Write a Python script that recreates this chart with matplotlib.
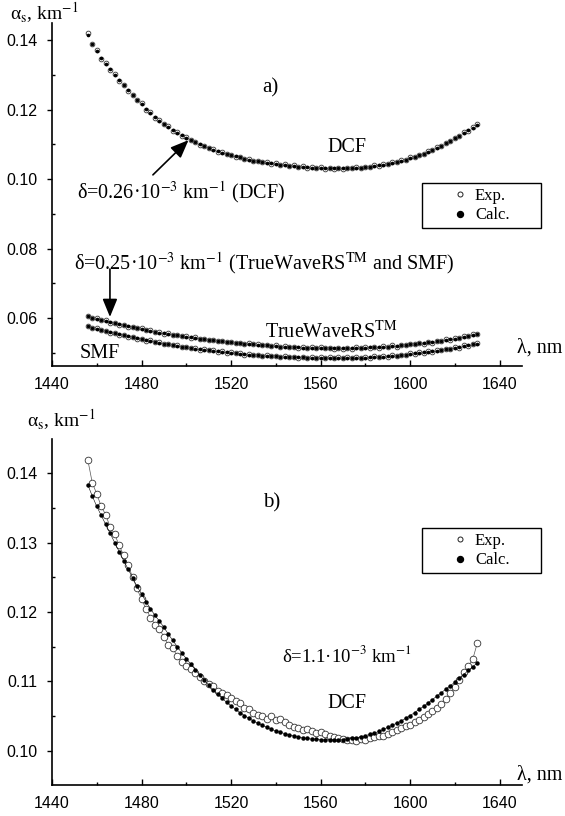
"""
Scattering loss spectra alpha_s(lambda): experiment vs calculation
a) DCF, TrueWaveRS and SMF   b) DCF with a worse fit
"""

import numpy as np
import matplotlib.pyplot as plt
from matplotlib.lines import Line2D
from matplotlib.ticker import FormatStrFormatter

# ---- data ----
wavelength = [1456, 1458, 1460, 1462, 1464, 1466, 1468, 1470,
              1472, 1474, 1476, 1478, 1480, 1482, 1484, 1486,
              1488, 1490, 1492, 1494, 1496, 1498, 1500, 1502,
              1504, 1506, 1508, 1510, 1512, 1514, 1516, 1518,
              1520, 1522, 1524, 1526, 1528, 1530, 1532, 1534,
              1536, 1538, 1540, 1542, 1544, 1546, 1548, 1550,
              1552, 1554, 1556, 1558, 1560, 1562, 1564, 1566,
              1568, 1570, 1572, 1574, 1576, 1578, 1580, 1582,
              1584, 1586, 1588, 1590, 1592, 1594, 1596, 1598,
              1600, 1602, 1604, 1606, 1608, 1610, 1612, 1614,
              1616, 1618, 1620, 1622, 1624, 1626, 1628, 1630]

# panel a) DCF
dcf_exp_a = [.1420, .1388, .1370, .1346, .1333, .1314, .1302, .1283,
             .1272, .1253, .1243, .1226, .1218, .1200, .1193, .1177,
             .1170, .1157, .1152, .1139, .1135, .1124, .1121, .1111,
             .1108, .1099, .1096, .1088, .1086, .1079, .1078, .1071,
             .1070, .1064, .1064, .1058, .1058, .1052, .1053, .1048,
             .1049, .1044, .1045, .1040, .1042, .1037, .1039, .1035,
             .1037, .1033, .1035, .1031, .1034, .1030, .1033, .1030,
             .1033, .1030, .1033, .1031, .1034, .1032, .1036, .1034,
             .1039, .1038, .1043, .1042, .1048, .1048, .1054, .1055,
             .1062, .1063, .1070, .1072, .1080, .1083, .1092, .1095,
             .1105, .1109, .1119, .1123, .1134, .1139, .1150, .1158]
dcf_calc_a = [.1415, .1390, .1368, .1348, .1331, .1316, .1300, .1285,
              .1270, .1255, .1241, .1228, .1215, .1202, .1190, .1179,
              .1168, .1159, .1150, .1141, .1133, .1126, .1119, .1112,
              .1106, .1100, .1094, .1089, .1084, .1080, .1076, .1072,
              .1068, .1065, .1062, .1059, .1056, .1053, .1051, .1049,
              .1047, .1045, .1043, .1041, .1040, .1038, .1037, .1036,
              .1035, .1034, .1033, .1032, .1032, .1031, .1031, .1031,
              .1031, .1031, .1031, .1032, .1032, .1033, .1034, .1035,
              .1037, .1039, .1041, .1043, .1046, .1049, .1052, .1056,
              .1060, .1064, .1068, .1073, .1078, .1084, .1090, .1096,
              .1103, .1110, .1117, .1124, .1132, .1140, .1148, .1156]

# panel a) TrueWaveRS
tw_exp = [.0607, .0600, .0600, .0593, .0593, .0587, .0587, .0581,
          .0581, .0575, .0575, .0570, .0570, .0565, .0565, .0560,
          .0560, .0555, .0556, .0551, .0552, .0547, .0548, .0543,
          .0544, .0539, .0541, .0538, .0538, .0533, .0535, .0530,
          .0532, .0528, .0529, .0525, .0527, .0524, .0525, .0521,
          .0523, .0519, .0521, .0517, .0520, .0516, .0518, .0515,
          .0517, .0514, .0517, .0514, .0516, .0513, .0515, .0512,
          .0515, .0512, .0515, .0512, .0516, .0513, .0517, .0514,
          .0518, .0515, .0519, .0516, .0521, .0518, .0523, .0521,
          .0526, .0524, .0529, .0526, .0530, .0528, .0534, .0533,
          .0539, .0538, .0543, .0542, .0548, .0547, .0553, .0554]
tw_calc = [.0605, .0601, .0598, .0594, .0591, .0588, .0585, .0582,
           .0579, .0576, .0573, .0571, .0568, .0566, .0563, .0561,
           .0558, .0556, .0554, .0552, .0550, .0548, .0546, .0544,
           .0542, .0540, .0539, .0537, .0536, .0534, .0533, .0531,
           .0530, .0529, .0527, .0526, .0525, .0524, .0523, .0522,
           .0521, .0520, .0519, .0518, .0518, .0517, .0516, .0516,
           .0515, .0515, .0515, .0514, .0514, .0514, .0513, .0513,
           .0513, .0513, .0513, .0514, .0514, .0515, .0515, .0516,
           .0516, .0517, .0517, .0518, .0519, .0520, .0521, .0522,
           .0524, .0525, .0527, .0528, .0530, .0532, .0534, .0535,
           .0537, .0539, .0541, .0543, .0546, .0548, .0551, .0553]

# panel a) SMF
smf_exp = [.0578, .0571, .0571, .0565, .0564, .0558, .0558, .0552,
           .0552, .0546, .0546, .0541, .0541, .0535, .0536, .0530,
           .0531, .0525, .0526, .0521, .0522, .0517, .0518, .0513,
           .0514, .0509, .0511, .0508, .0508, .0503, .0505, .0500,
           .0502, .0498, .0499, .0495, .0497, .0494, .0495, .0491,
           .0493, .0490, .0492, .0488, .0491, .0487, .0489, .0486,
           .0489, .0485, .0488, .0485, .0487, .0484, .0487, .0484,
           .0487, .0484, .0487, .0484, .0488, .0485, .0488, .0486,
           .0490, .0487, .0491, .0489, .0493, .0491, .0495, .0494,
           .0498, .0497, .0501, .0500, .0504, .0503, .0508, .0507,
           .0512, .0511, .0516, .0515, .0521, .0520, .0526, .0527]
smf_calc = [.0576, .0572, .0569, .0566, .0562, .0559, .0556, .0553,
            .0550, .0547, .0544, .0542, .0539, .0536, .0534, .0531,
            .0529, .0526, .0524, .0522, .0520, .0518, .0516, .0514,
            .0512, .0510, .0509, .0507, .0506, .0504, .0503, .0501,
            .0500, .0499, .0497, .0496, .0495, .0494, .0493, .0492,
            .0491, .0491, .0490, .0489, .0489, .0488, .0488, .0487,
            .0487, .0486, .0486, .0486, .0485, .0485, .0485, .0485,
            .0485, .0485, .0485, .0485, .0486, .0486, .0486, .0487,
            .0488, .0488, .0489, .0490, .0491, .0492, .0493, .0495,
            .0496, .0498, .0499, .0501, .0502, .0504, .0506, .0508,
            .0510, .0512, .0514, .0516, .0519, .0521, .0524, .0526]

# panel b) DCF
dcf_exp_b = [.1419, .1386, .1370, .1352, .1340, .1322, .1312, .1296,
             .1282, .1268, .1250, .1234, .1218, .1205, .1192, .1182,
             .1176, .1164, .1152, .1148, .1136, .1128, .1122, .1118,
             .1112, .1106, .1100, .1096, .1094, .1086, .1083, .1080,
             .1076, .1072, .1069, .1062, .1060, .1055, .1052, .1050,
             .1046, .1050, .1045, .1046, .1042, .1038, .1035, .1033,
             .1030, .1031, .1028, .1026, .1027, .1024, .1022, .1020,
             .1018, .1017, .1016, .1016, .1015, .1017, .1016, .1019,
             .1020, .1022, .1022, .1025, .1027, .1030, .1033, .1036,
             .1038, .1042, .1045, .1049, .1053, .1057, .1062, .1068,
             .1075, .1083, .1092, .1102, .1113, .1122, .1132, .1155]
dcf_calc_b = [.1383, .1367, .1352, .1339, .1326, .1313, .1300, .1287,
              .1274, .1262, .1249, .1237, .1226, .1215, .1205, .1195,
              .1187, .1178, .1168, .1159, .1150, .1141, .1133, .1125,
              .1117, .1109, .1102, .1095, .1088, .1082, .1076, .1070,
              .1065, .1060, .1055, .1051, .1047, .1043, .1040, .1037,
              .1034, .1031, .1029, .1027, .1025, .1023, .1022, .1020,
              .1019, .1018, .1017, .1017, .1016, .1016, .1016, .1016,
              .1016, .1016, .1017, .1018, .1019, .1020, .1022, .1024,
              .1026, .1028, .1031, .1034, .1037, .1040, .1043, .1047,
              .1051, .1055, .1060, .1064, .1069, .1074, .1079, .1084,
              .1089, .1094, .1099, .1105, .1110, .1116, .1121, .1127]

SERIF = ['Liberation Serif', 'DejaVu Serif']
SANS = 'Liberation Sans'

plt.rcParams['font.family'] = SERIF
plt.rcParams['mathtext.fontset'] = 'stix'


def style_axes(ax, ylim, ymajor, yminor):
    """Only left/bottom spines, x ticks inside, y major ticks outside"""
    ax.set_xlim(1440, 1650)
    ax.set_ylim(*ylim)
    ax.spines['top'].set_visible(False)
    ax.spines['right'].set_visible(False)
    ax.spines['left'].set_linewidth(1.2)
    ax.spines['bottom'].set_linewidth(1.2)

    ax.set_xticks(np.arange(1440, 1641, 40))
    ax.set_xticks(np.arange(1460, 1641, 40), minor=True)
    ax.set_yticks(ymajor)
    ax.set_yticks(yminor, minor=True)
    ax.yaxis.set_major_formatter(FormatStrFormatter('%.2f'))

    ax.tick_params(axis='x', which='major', direction='in', length=4, width=1, pad=8)
    ax.tick_params(axis='x', which='minor', direction='in', length=2.5, width=1)
    ax.tick_params(axis='y', which='major', direction='out', length=3.5, width=1, pad=7)
    ax.tick_params(axis='y', which='minor', direction='in', length=2, width=1)
    ax.tick_params(which='both', labelsize=11.5, labelfontfamily=SANS)


def add_legend(ax, top):
    handles = [Line2D([], [], ls='none', marker='o', ms=3.6, mfc='white', mec='#222', mew=0.7),
               Line2D([], [], ls='none', marker='o', ms=4.3, color='black')]
    leg = ax.legend(handles, ['Exp.', 'Calc.'], loc='upper left',
                    bbox_to_anchor=(0.7469, top - 0.05, 0.2106, 0.05),
                    bbox_transform=ax.figure.transFigure, mode='expand',
                    fontsize=12, frameon=True, fancybox=False, framealpha=1,
                    edgecolor='black', borderpad=0.3, handlelength=3.96,
                    handletextpad=-1.08, labelspacing=0.2, borderaxespad=0)
    leg.get_frame().set_linewidth(1.0)


arrow_kw = dict(arrowstyle='-|>,head_length=1.1,head_width=0.45', color='black',
                lw=1.2, mutation_scale=10, shrinkA=0, shrinkB=0)

fig = plt.figure(figsize=(5.65, 8.16), dpi=100)
ax1 = fig.add_axes([0.092, 0.5515, 0.8319, 0.4203])
ax2 = fig.add_axes([0.092, 0.038, 0.8319, 0.424])

# ---- panel a) ----
for exp, calc in [(dcf_exp_a, dcf_calc_a), (tw_exp, tw_calc), (smf_exp, smf_calc)]:
    ax1.plot(wavelength, exp, ls='none', marker='o', ms=3.4, mfc='white', mec='#333', mew=0.6)
    ax1.plot(wavelength, calc, ls='none', marker='o', ms=1.6, color='black')

style_axes(ax1, (0.0462, 0.1449), np.arange(0.06, 0.141, 0.02), np.arange(0.05, 0.14, 0.02))
add_legend(ax1, 0.7757)

ax1.text(-0.0894, 1.029, 'α$_{\\rm s}$, km$^{-1}$', transform=ax1.transAxes, fontsize=14, va='center')
ax1.text(0.989, 0.0525, 'λ, nm', transform=ax1.transAxes, fontsize=14.5, va='center', ha='left')
ax1.text(1537.4, 0.1262, 'a)', fontsize=15, ha='center', va='center')
ax1.text(1562.9, 0.1092, 'DCF', fontsize=14.5, va='center')
ax1.text(1451.0, 0.0963, 'δ=0.26·10$^{-3}$ km$^{-1}$ (DCF)', fontsize=14.5, va='center')
ax1.text(1450.0, 0.0758, 'δ=0.25·10$^{-3}$ km$^{-1}$ (TrueWaveRS$^{\\rm TM}$ and SMF)',
         fontsize=14.5, va='center')
ax1.text(1535.2, 0.0560, 'TrueWaveRS$^{\\rm TM}$', fontsize=14.5, va='center')
ax1.text(1452.5, 0.0499, 'SMF', fontsize=14.5, va='center')
ax1.annotate('', xy=(1501.0, 0.1112), xytext=(1485.1, 0.1012), arrowprops=arrow_kw)
ax1.annotate('', xy=(1465.9, 0.0603), xytext=(1465.9, 0.0741), arrowprops=arrow_kw)

# ---- panel b) ----
ax2.plot(wavelength, dcf_exp_b, color='#555', lw=0.5, marker='o', ms=4.8,
         mfc='white', mec='#333', mew=0.6)
ax2.plot(wavelength, dcf_calc_b, color='black', lw=0.4, marker='o', ms=2.2)

style_axes(ax2, (0.0951, 0.1449), np.arange(0.10, 0.141, 0.01), np.arange(0.105, 0.14, 0.01))
add_legend(ax2, 0.3529)

ax2.text(-0.053, 1.055, 'α$_{\\rm s}$, km$^{-1}$', transform=ax2.transAxes, fontsize=14, va='center')
ax2.text(0.989, 0.029, 'λ, nm', transform=ax2.transAxes, fontsize=14.5, va='center', ha='left')
ax2.text(1538.3, 0.1357, 'b)', fontsize=15, ha='center', va='center')
ax2.text(1542.8, 0.1138, 'δ=1.1·10$^{-3}$ km$^{-1}$', fontsize=13.5, va='center')
ax2.text(1562.9, 0.1069, 'DCF', fontsize=14.5, va='center')

plt.savefig('out.png', dpi=100)
